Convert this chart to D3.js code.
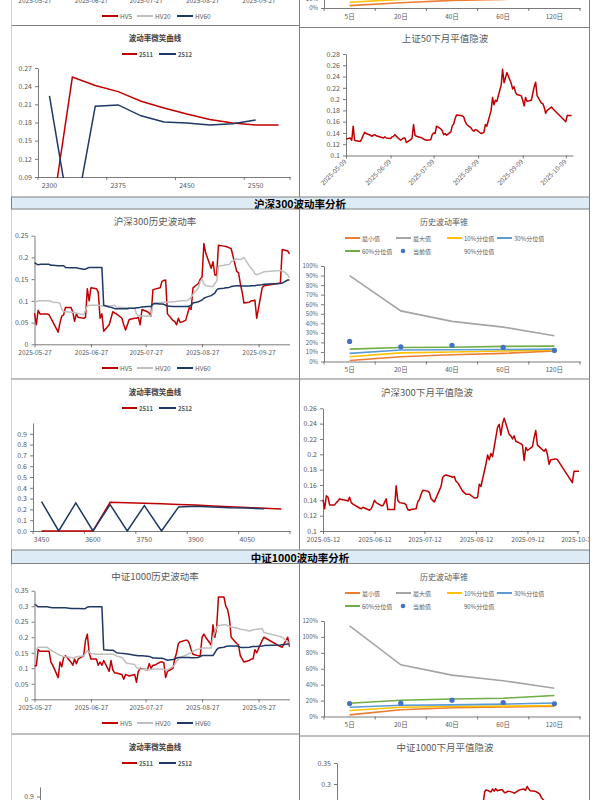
<!DOCTYPE html>
<html>
<head>
<meta charset="utf-8">
<script src="https://cdn.jsdelivr.net/npm/d3@7"></script>
<style>
  body { margin: 0; background: #fff; }
  text { font-family: "Noto Sans CJK SC", "Noto Sans", sans-serif; }
</style>
</head>
<body>
<svg id="chart" width="600" height="800"></svg>
<script>
// ---------------- data ----------------
// exchange holidays skipped when laying values on trading days
const holidays = ["2025-06-02", "2025-10-01", "2025-10-02", "2025-10-03", "2025-10-06", "2025-10-07", "2025-10-08"];

// 上证50下月平值隐波, trading days from 2025-05-09
const sz50IV = [
  0.129, 0.131, 0.127, 0.152, 0.127, 0.126, 0.125, 0.130, 0.136, 0.141, 0.139, 0.136, 0.134, 0.136, 0.137, 0.135,
  0.132, 0.131, 0.133, 0.131, 0.130, 0.133, 0.134, 0.137, 0.134, 0.127, 0.129, 0.131, 0.131, 0.123, 0.128, 0.131, 0.155, 0.136, 0.134, 0.132,
  0.131, 0.129, 0.128, 0.127, 0.128, 0.137, 0.140, 0.139, 0.152, 0.147, 0.144, 0.137, 0.139, 0.136, 0.142, 0.153, 0.156, 0.166, 0.172, 0.171, 0.170, 0.168, 0.160,
  0.155, 0.149, 0.145, 0.143, 0.146, 0.145, 0.139, 0.140, 0.141, 0.155, 0.152, 0.180, 0.203, 0.190, 0.198, 0.196, 0.225, 0.253, 0.229, 0.238, 0.247,
  0.228, 0.218, 0.222, 0.212, 0.208, 0.206, 0.198, 0.188, 0.203, 0.196, 0.198, 0.210, 0.222, 0.230, 0.206, 0.193, 0.192, 0.185, 0.175, 0.180, 0.186, 0.183,
  0.160, 0.171, 0.171
];

// 沪深300 historical volatility, trading days from 2025-05-27
const hsHV5 = [
  0.072, 0.045, 0.078, 0.070,
  0.070, 0.068, 0.060, 0.052, 0.028, 0.050, 0.065, 0.068, 0.085, 0.085, 0.075, 0.053, 0.070, 0.062, 0.060, 0.062, 0.128, 0.100, 0.130, 0.128,
  0.120, 0.060, 0.070, 0.030, 0.045, 0.060, 0.075, 0.072, 0.070, 0.060, 0.045, 0.033, 0.045, 0.057, 0.060, 0.060, 0.062, 0.045, 0.080, 0.075, 0.072, 0.065, 0.125,
  0.127, 0.130, 0.145, 0.147, 0.148, 0.070, 0.055, 0.052, 0.045, 0.060, 0.050, 0.055, 0.070, 0.085, 0.080, 0.130, 0.140, 0.150, 0.155, 0.232, 0.210,
  0.175, 0.190, 0.160, 0.158, 0.228, 0.226, 0.225, 0.224, 0.222, 0.220, 0.168, 0.165, 0.140, 0.120, 0.095, 0.097, 0.100, 0.100, 0.102, 0.060, 0.130, 0.135,
  0.141, 0.218, 0.215, 0.208
];
const hsHV20 = [
  0.097, 0.098, 0.100, 0.100,
  0.100, 0.100, 0.099, 0.097, 0.096, 0.094, 0.080, 0.075, 0.075, 0.074, 0.074, 0.073, 0.072, 0.071, 0.068, 0.078, 0.088, 0.090, 0.090, 0.090,
  0.090, 0.089, 0.088, 0.088, 0.088, 0.088, 0.089, 0.090, 0.086, 0.085, 0.085, 0.085, 0.084, 0.083, 0.083, 0.070, 0.065, 0.065, 0.065, 0.065, 0.065, 0.066, 0.092,
  0.095, 0.096, 0.096, 0.097, 0.097, 0.097, 0.098, 0.098, 0.099, 0.099, 0.100, 0.100, 0.101, 0.104, 0.108, 0.115, 0.130, 0.145, 0.150, 0.140, 0.135,
  0.133, 0.133, 0.140, 0.145, 0.180, 0.182, 0.183, 0.183, 0.184, 0.190, 0.197, 0.196, 0.195, 0.197, 0.200, 0.180, 0.175, 0.170, 0.162, 0.160, 0.165, 0.167,
  0.170, 0.170, 0.160, 0.153
];
const hsHV60 = [
  0.188, 0.185, 0.183, 0.184,
  0.184, 0.184, 0.182, 0.182, 0.181, 0.181, 0.181, 0.181, 0.177, 0.176, 0.176, 0.176, 0.176, 0.175, 0.173, 0.173, 0.175, 0.177, 0.177, 0.177,
  0.177, 0.177, 0.177, 0.090, 0.086, 0.085, 0.084, 0.082, 0.082, 0.082, 0.082, 0.082, 0.082, 0.083, 0.083, 0.084, 0.084, 0.085, 0.086, 0.087, 0.087, 0.087, 0.093,
  0.094, 0.093, 0.093, 0.092, 0.090, 0.088, 0.087, 0.087, 0.087, 0.087, 0.087, 0.087, 0.087, 0.088, 0.090, 0.095, 0.098, 0.100, 0.102, 0.106, 0.108,
  0.112, 0.115, 0.118, 0.125, 0.128, 0.129, 0.130, 0.130, 0.131, 0.133, 0.135, 0.135, 0.134, 0.134, 0.134, 0.134, 0.135, 0.135, 0.135, 0.136, 0.137, 0.138,
  0.140, 0.141, 0.148, 0.148
];

// 中证1000 historical volatility, trading days from 2025-05-27
const zzHV5 = [
  0.108, 0.108, 0.160, 0.155,
  0.155, 0.155, 0.120, 0.110, 0.070, 0.120, 0.105, 0.135, 0.140, 0.120, 0.110, 0.130, 0.115, 0.130, 0.140, 0.190, 0.210, 0.150, 0.130, 0.130,
  0.110, 0.120, 0.110, 0.125, 0.090, 0.125, 0.095, 0.085, 0.085, 0.080, 0.065, 0.080, 0.078, 0.075, 0.080, 0.055, 0.090, 0.100, 0.098, 0.095, 0.115, 0.100, 0.110,
  0.110, 0.120, 0.120, 0.118, 0.070, 0.090, 0.100, 0.130, 0.150, 0.180, 0.185, 0.190, 0.190, 0.180, 0.160, 0.145, 0.140, 0.140, 0.200, 0.210, 0.200,
  0.175, 0.240, 0.200, 0.230, 0.330, 0.330, 0.300, 0.290, 0.260, 0.200, 0.180, 0.175, 0.140, 0.130, 0.120, 0.125, 0.130, 0.130, 0.160, 0.150, 0.190, 0.200,
  0.170, 0.168, 0.200, 0.170
];
const zzHV20 = [
  0.155, 0.160, 0.168, 0.168,
  0.168, 0.162, 0.158, 0.155, 0.145, 0.142, 0.140, 0.138, 0.137, 0.135, 0.133, 0.135, 0.137, 0.138, 0.140, 0.148, 0.157, 0.152, 0.148, 0.145,
  0.145, 0.145, 0.146, 0.145, 0.145, 0.146, 0.145, 0.143, 0.140, 0.135, 0.128, 0.120, 0.115, 0.115, 0.112, 0.103, 0.100, 0.098, 0.097, 0.096, 0.095, 0.096, 0.097,
  0.098, 0.098, 0.097, 0.096, 0.095, 0.095, 0.105, 0.112, 0.122, 0.130, 0.135, 0.142, 0.145, 0.148, 0.150, 0.155, 0.162, 0.163, 0.165, 0.165, 0.165,
  0.165, 0.200, 0.215, 0.232, 0.238, 0.240, 0.240, 0.238, 0.236, 0.233, 0.230, 0.228, 0.226, 0.225, 0.224, 0.220, 0.222, 0.224, 0.225, 0.226, 0.228, 0.215,
  0.202, 0.200, 0.185, 0.175
];
const zzHV60 = [
  0.305, 0.303, 0.298, 0.298,
  0.298, 0.297, 0.296, 0.295, 0.295, 0.295, 0.295, 0.295, 0.295, 0.293, 0.293, 0.293, 0.293, 0.293, 0.292, 0.293, 0.297, 0.298, 0.298, 0.298,
  0.298, 0.298, 0.298, 0.160, 0.158, 0.158, 0.158, 0.155, 0.150, 0.148, 0.148, 0.147, 0.146, 0.145, 0.142, 0.141, 0.140, 0.140, 0.140, 0.139, 0.138, 0.136, 0.133,
  0.133, 0.132, 0.132, 0.131, 0.128, 0.126, 0.128, 0.130, 0.133, 0.135, 0.135, 0.135, 0.135, 0.135, 0.134, 0.134, 0.135, 0.138, 0.141, 0.141, 0.141,
  0.141, 0.141, 0.150, 0.160, 0.165, 0.168, 0.170, 0.171, 0.172, 0.172, 0.172, 0.170, 0.168, 0.167, 0.167, 0.168, 0.169, 0.170, 0.170, 0.170, 0.172, 0.173,
  0.175, 0.176, 0.178, 0.178
];

// 沪深300下月平值隐波, trading days from 2025-05-12
const hsIV = [
  0.141, 0.129, 0.146, 0.144, 0.134, 0.134, 0.137, 0.139, 0.142, 0.141, 0.140, 0.139, 0.144, 0.137, 0.135,
  0.130, 0.129, 0.131, 0.130, 0.127, 0.129, 0.134, 0.140, 0.137, 0.133, 0.133, 0.137, 0.142, 0.128, 0.128, 0.128, 0.159, 0.140, 0.137, 0.136,
  0.134, 0.128, 0.127, 0.128, 0.129, 0.138, 0.141, 0.148, 0.153, 0.152, 0.150, 0.142, 0.140, 0.138, 0.153, 0.158, 0.170, 0.172, 0.173, 0.171, 0.170, 0.171, 0.165,
  0.163, 0.152, 0.150, 0.148, 0.148, 0.148, 0.143, 0.143, 0.144, 0.161, 0.158, 0.187, 0.199, 0.193, 0.201, 0.197, 0.235, 0.239, 0.225, 0.240, 0.247,
  0.226, 0.224, 0.220, 0.224, 0.217, 0.214, 0.212, 0.192, 0.209, 0.205, 0.210, 0.222, 0.231, 0.212, 0.210, 0.204, 0.207, 0.200, 0.187, 0.193, 0.194, 0.193,
  0.163, 0.178, 0.178
];

// 中证1000下月平值隐波, visible part only, trading days from 2025-08-13
const zzIV = [
  0.255, 0.282, 0.286, 0.281, 0.288, 0.283, 0.289, 0.284, 0.287, 0.282, 0.279, 0.281, 0.283,
  0.280, 0.278, 0.281, 0.283, 0.286, 0.288, 0.285, 0.294, 0.288, 0.284, 0.283, 0.281, 0.279, 0.276, 0.268, 0.255
];

// volatility cones (%)
const coneCats = ["5日", "20日", "40日", "60日", "120日"];
const sz50ConeMin = [2.5, 5.5, 8, 9, 11];
const sz50ConeP10 = [6, 9, 10.5, 11.5, 12.5];
const hsConeMin = [1, 5, 7, 8.5, 11];
const hsConeMax = [90, 53, 42, 36, 27];
const hsConeP10 = [5, 9, 10, 11, 12];
const hsConeP30 = [8.5, 12, 12.3, 12.6, 13];
const hsConeP60 = [13, 14.7, 15, 15.8, 16.1];
const hsConeCur = [21, 15.4, 17, 14.7, 11.6];
const zzConeMin = [2, 8.4, 11, 12, 13];
const zzConeMax = [114, 65, 52, 45, 35.5];
const zzConeP10 = [7.5, 11.7, 12.5, 13, 13.8];
const zzConeP30 = [11.7, 14.2, 14.6, 15.5, 17];
const zzConeP60 = [16.7, 20.5, 22, 23, 26.3];
const zzConeCur = [16.3, 16.7, 20.5, 17.6, 16];

// volatility smiles
const sz50Strikes = [2300, 2325, 2350, 2375, 2400, 2425, 2450, 2475, 2500, 2550, 2600];
const sz50Smile2511 = [0, 0.255, 0.241, 0.231, 0.215, 0.204, 0.194, 0.185, 0.179, 0.176, 0.176];
const sz50Smile2512 = [0.224, 0, 0.207, 0.209, 0.191, 0.181, 0.179, 0.176, 0.178, 0.184, null];
const hsStrikes = [3450, 3500, 3550, 3600, 3650, 3700, 3750, 3800, 3850, 3900, 3950, 4000, 4050, 4100, 4150];
const hsSmile2511 = [0, 0, 0, 0, 0.266, 0.262, 0.257, 0.252, 0.246, 0.240, 0.232, 0.225, 0.218, 0.210, 0.203];
const hsSmile2512 = [0.272, 0, 0.260, 0, 0.245, 0, 0.235, 0, 0.223, 0.229, 0.222, 0.215, 0.212, 0.205, null];

const hvTicks = ["2025-05-27", "2025-06-27", "2025-07-27", "2025-08-27", "2025-09-27"];
const sz50Ticks = ["2025-05-09", "2025-06-09", "2025-07-09", "2025-08-09", "2025-09-09", "2025-10-09"];
const hsIVTicks = ["2025-05-12", "2025-06-12", "2025-07-12", "2025-08-12", "2025-09-12", "2025-10-12"];

// ---------------- helpers ----------------
const svg = d3.select("#chart");
const parse = d3.timeParse("%Y-%m-%d");
const fmtDate = d3.timeFormat("%Y-%m-%d");
const TEXT = "#595959", AXIS = "#595959", FRAME = "#808080";
const RED = "#c00000", GRAY = "#bfbfbf", NAVY = "#203864";
const fmtNum = d => d === 0 ? "0" : String(+d.toFixed(2));

function tradingDays(start, n) {
  const out = [];
  let d = parse(start);
  while (out.length < n) {
    const wd = d.getDay();
    if (wd !== 0 && wd !== 6 && !holidays.includes(fmtDate(d))) out.push(d);
    d = d3.timeDay.offset(d, 1);
  }
  return out;
}
function toSeries(start, values) {
  const days = tradingDays(start, values.length);
  return values.map((v, i) => ({ date: days[i], value: v }));
}
function styleAxis(g, size) {
  g.selectAll(".domain").attr("stroke", AXIS).attr("stroke-width", 0.8);
  g.selectAll(".tick line").attr("stroke", AXIS).attr("stroke-width", 0.8);
  g.selectAll(".tick text").attr("fill", TEXT).attr("font-size", size || 7)
    .attr("font-family", '"Noto Sans CJK SC", sans-serif');
}
function label(g, x, y, txt, size, opts) {
  opts = opts || {};
  return g.append("text").attr("x", x).attr("y", y)
    .attr("text-anchor", opts.anchor || "middle").attr("dominant-baseline", "central")
    .attr("font-size", size).attr("font-weight", opts.weight || 400)
    .attr("fill", opts.color || TEXT).text(txt);
}
function legendLine(g, x1, x2, y, color, txt, size, weight) {
  g.append("line").attr("x1", x1).attr("x2", x2).attr("y1", y).attr("y2", y)
    .attr("stroke", color).attr("stroke-width", 2);
  label(g, x2 + 2, y, txt, size, { anchor: "start", weight: weight });
}

// clip for right-hand column
svg.append("defs").append("clipPath").attr("id", "rightCol")
  .append("rect").attr("x", 300).attr("y", 0).attr("width", 289).attr("height", 800);

// ---------------- historical volatility chart ----------------
function hvChart(top, title, yMax, series, full) {
  const g = svg.append("g");
  const x = d3.scaleTime().domain([parse("2025-05-27"), parse("2025-10-14")]).range([34.5, 289.5]);
  const y = d3.scaleLinear().domain([0, yMax]).range([top + 135.3, top + 26.7]);
  if (full) {
    label(g, 155, top + 12, title, 9.5);
    g.append("g").attr("transform", "translate(34.5,0)")
      .call(d3.axisLeft(y).tickValues(d3.range(0, yMax + 1e-9, 0.05)).tickSize(3).tickSizeOuter(0).tickFormat(fmtNum))
      .call(styleAxis);
    series.forEach(s => {
      g.append("path").datum(s.data)
        .attr("d", d3.line().x(d => x(d.date)).y(d => y(d.value)))
        .attr("fill", "none").attr("stroke", s.color).attr("stroke-width", 1.5)
        .attr("stroke-linejoin", "round");
    });
  }
  g.append("g").attr("transform", `translate(0,${top + 135.3})`)
    .call(d3.axisBottom(x).tickValues(hvTicks.map(parse)).tickSize(3).tickSizeOuter(0).tickFormat(fmtDate))
    .call(styleAxis, 6.5);
  const ly = top + 159;
  legendLine(g, 102, 118, ly, RED, "HV5", 6.5);
  legendLine(g, 137, 153, ly, GRAY, "HV20", 6.5);
  legendLine(g, 177, 193, ly, NAVY, "HV60", 6.5);
}

// ---------------- volatility cone ----------------
function coneChart(top, yMax, yStep, series, dots) {
  const g = svg.append("g");
  const x = d3.scaleBand().domain(coneCats).range([324, 580]);
  const y = d3.scaleLinear().domain([0, yMax]).range([top + 152.5, top + 57]);
  label(g, 444, top + 12, "历史波动率锥", 8);
  const r1 = top + 29, r2 = top + 42;
  legendLine(g, 345, 360, r1, "#ed7d31", "最小值", 6);
  legendLine(g, 396, 411, r1, "#a5a5a5", "最大值", 6);
  legendLine(g, 447, 462, r1, "#ffc000", "10%分位值", 6);
  legendLine(g, 497, 512, r1, "#5b9bd5", "30%分位值", 6);
  legendLine(g, 345, 360, r2, "#70ad47", "60%分位值", 6);
  g.append("circle").attr("cx", 403).attr("cy", r2).attr("r", 2.3).attr("fill", "#4472c4");
  label(g, 413, r2, "当前值", 6, { anchor: "start" });
  label(g, 464, r2, "90%分位值", 6, { anchor: "start" });

  g.append("g").attr("transform", "translate(324,0)")
    .call(d3.axisLeft(y).tickValues(d3.range(0, yMax + 1e-9, yStep)).tickSize(3).tickSizeOuter(0).tickFormat(d => d + "%"))
    .call(styleAxis, 6);
  const gx = g.append("g").attr("transform", `translate(0,${y(0)})`)
    .call(d3.axisBottom(x).tickSize(0).tickSizeOuter(0).tickPadding(6))
    .call(styleAxis, 6.5);
  d3.range(coneCats.length + 1).forEach(i => {
    const tx = x.range()[0] + i * x.bandwidth();
    gx.append("line").attr("x1", tx).attr("x2", tx).attr("y1", 0).attr("y2", 3)
      .attr("stroke", AXIS).attr("stroke-width", 0.8);
  });
  const line = d3.line().x((d, i) => x(coneCats[i]) + x.bandwidth() / 2).y(d => y(d));
  series.forEach(s => {
    g.append("path").datum(s.values).attr("d", line)
      .attr("fill", "none").attr("stroke", s.color).attr("stroke-width", 1.6);
  });
  if (dots) {
    g.selectAll(null).data(dots).enter().append("circle")
      .attr("cx", (d, i) => x(coneCats[i]) + x.bandwidth() / 2).attr("cy", d => y(d))
      .attr("r", 2.6).attr("fill", "#4472c4");
  }
}

// ---------------- volatility smile ----------------
function smileChart(o) {
  const g = svg.append("g");
  label(g, 155, o.top + 12, "波动率微笑曲线", 7.5, { weight: 700, color: "#404040" });
  legendLine(g, 122, 137, o.top + 29, RED, "2511", 6, 700);
  legendLine(g, 159, 176, o.top + 29, NAVY, "2512", 6, 700);
  const y = d3.scaleLinear().domain(o.yDomain).range([o.yBottom, o.yTop]);
  g.append("g").attr("transform", `translate(${o.x0},0)`)
    .call(d3.axisLeft(y).tickValues(o.yTicks).tickSize(3).tickSizeOuter(0).tickFormat(d3.format(o.fmt)))
    .call(styleAxis);
  if (!o.cats) return;
  const x = d3.scaleBand().domain(o.cats).range([o.x0, o.x1]);
  const gx = g.append("g").attr("transform", `translate(0,${o.yBottom})`)
    .call(d3.axisBottom(x).tickValues(o.cats.filter((c, i) => i % 3 === 0)).tickSize(0).tickSizeOuter(0).tickPadding(6))
    .call(styleAxis);
  o.cats.forEach((c, i) => {
    if (i % 3 === 0) {
      gx.append("line").attr("x1", x(c)).attr("x2", x(c)).attr("y1", 0).attr("y2", 3)
        .attr("stroke", AXIS).attr("stroke-width", 0.8);
    }
  });
  gx.append("line").attr("x1", o.x1).attr("x2", o.x1).attr("y1", 0).attr("y2", 3)
    .attr("stroke", AXIS).attr("stroke-width", 0.8);
  const clipId = "clip" + o.top;
  g.append("clipPath").attr("id", clipId).append("rect")
    .attr("x", o.x0).attr("y", o.yTop - 2).attr("width", o.x1 - o.x0).attr("height", o.yBottom - o.yTop + 3);
  const line = d3.line().defined(d => d != null)
    .x((d, i) => x(o.cats[i]) + x.bandwidth() / 2).y(d => y(d));
  [[o.s2511, RED], [o.s2512, NAVY]].forEach(([vals, col]) => {
    g.append("path").datum(vals).attr("d", line).attr("clip-path", `url(#${clipId})`)
      .attr("fill", "none").attr("stroke", col).attr("stroke-width", 1.5);
  });
}

// ---------------- implied volatility ----------------
function ivChart(o) {
  const g = svg.append("g").attr("clip-path", "url(#rightCol)");
  label(g, o.titleX, o.titleY, o.title, 9.5);
  const x = d3.scaleTime().domain(o.domain.map(parse)).range([o.x0, o.x1]);
  const y = d3.scaleLinear().domain(o.yDomain).range([o.yBottom, o.yTop]);
  g.append("g").attr("transform", `translate(${o.x0},0)`)
    .call(d3.axisLeft(y).tickValues(d3.range(o.yDomain[0], o.yDomain[1] + 1e-9, o.yStep)).tickSize(3).tickSizeOuter(0).tickFormat(fmtNum))
    .call(styleAxis);
  const gx = g.append("g").attr("transform", `translate(0,${o.yBottom})`)
    .call(d3.axisBottom(x).tickValues(o.ticks.map(parse)).tickSize(3).tickSizeOuter(0).tickFormat(fmtDate))
    .call(styleAxis, 6.5);
  if (o.rotate) {
    gx.selectAll(".tick text").attr("y", 0).attr("dy", "0.35em")
      .attr("transform", "translate(-1,5) rotate(-45)").attr("text-anchor", "end");
  }
  g.append("path").datum(o.data)
    .attr("d", d3.line().x(d => x(d.date)).y(d => y(d.value)))
    .attr("fill", "none").attr("stroke", RED).attr("stroke-width", 1.5).attr("stroke-linejoin", "round");
}

// ---------------- frame ----------------
const fr = svg.append("g");
function frLine(x1, y1, x2, y2, c) {
  fr.append("line").attr("x1", x1).attr("y1", y1).attr("x2", x2).attr("y2", y2)
    .attr("stroke", c || FRAME).attr("stroke-width", 1);
}
[[0, 197], [209, 550], [564, 800]].forEach(([a, b]) => {
  frLine(11.5, a, 11.5, b, "#d0d0d0");
  frLine(299.5, a, 299.5, b);
  frLine(589.5, a, 589.5, b);
});
frLine(11.5, 25.5, 299.5, 25.5);
frLine(299.5, 27.5, 589.5, 27.5);
frLine(11.5, 379, 589.5, 379);
frLine(11.5, 734, 299.5, 734);
frLine(299.5, 736, 589.5, 736);
[[197, 12, "沪深300波动率分析"], [550, 13.5, "中证1000波动率分析"]].forEach(([yy, h, t]) => {
  fr.append("rect").attr("x", 11.5).attr("y", yy).attr("width", 578).attr("height", h)
    .attr("fill", "#ddebf7").attr("stroke", FRAME).attr("stroke-width", 1);
  label(fr, 300, yy + h / 2 + 0.5, t, 10.5, { weight: 700, color: "#000" });
});

// ---------------- draw ----------------
// top row (continued from previous page)
hvChart(-143, "", 0.25, [], false);
coneChart(-144.5, 100, 10, [
  { values: sz50ConeMin, color: "#ed7d31" },
  { values: sz50ConeP10, color: "#ffc000" }
], null);

// 上证50 row
smileChart({ top: 25, x0: 38, x1: 290, yTop: 68, yBottom: 177, yDomain: [0.09, 0.27],
  yTicks: [0.09, 0.12, 0.15, 0.18, 0.21, 0.24, 0.27], fmt: ".2f",
  cats: sz50Strikes, s2511: sz50Smile2511, s2512: sz50Smile2512 });
ivChart({ title: "上证50下月平值隐波", titleX: 445, titleY: 38, x0: 346, x1: 573,
  domain: ["2025-05-09", "2025-10-14"], ticks: sz50Ticks, rotate: true,
  yDomain: [0.1, 0.28], yStep: 0.02, yTop: 54, yBottom: 155.5, data: toSeries("2025-05-09", sz50IV) });

// 沪深300
hvChart(209, "沪深300历史波动率", 0.25, [
  { data: toSeries("2025-05-27", hsHV5), color: RED },
  { data: toSeries("2025-05-27", hsHV20), color: GRAY },
  { data: toSeries("2025-05-27", hsHV60), color: NAVY }
], true);
coneChart(209, 100, 10, [
  { values: hsConeMin, color: "#ed7d31" },
  { values: hsConeMax, color: "#a5a5a5" },
  { values: hsConeP10, color: "#ffc000" },
  { values: hsConeP30, color: "#5b9bd5" },
  { values: hsConeP60, color: "#70ad47" }
], hsConeCur);
smileChart({ top: 379, x0: 33, x1: 290, yTop: 423, yBottom: 531, yDomain: [0, 1],
  yTicks: [0, 0.1, 0.2, 0.3, 0.4, 0.5, 0.6, 0.7, 0.8, 0.9], fmt: ".1f",
  cats: hsStrikes, s2511: hsSmile2511, s2512: hsSmile2512 });
ivChart({ title: "沪深300下月平值隐波", titleX: 427, titleY: 392, x0: 323, x1: 579,
  domain: ["2025-05-12", "2025-10-13"], ticks: hsIVTicks, rotate: false,
  yDomain: [0.1, 0.26], yStep: 0.02, yTop: 408.3, yBottom: 531, data: toSeries("2025-05-12", hsIV) });

// 中证1000
hvChart(564, "中证1000历史波动率", 0.35, [
  { data: toSeries("2025-05-27", zzHV5), color: RED },
  { data: toSeries("2025-05-27", zzHV20), color: GRAY },
  { data: toSeries("2025-05-27", zzHV60), color: NAVY }
], true);
coneChart(564, 120, 20, [
  { values: zzConeMin, color: "#ed7d31" },
  { values: zzConeMax, color: "#a5a5a5" },
  { values: zzConeP10, color: "#ffc000" },
  { values: zzConeP30, color: "#5b9bd5" },
  { values: zzConeP60, color: "#70ad47" }
], zzConeCur);
smileChart({ top: 734, x0: 40, x1: 290, yTop: 787, yBottom: 882, yDomain: [0, 1],
  yTicks: [0, 0.1, 0.2, 0.3, 0.4, 0.5, 0.6, 0.7, 0.8, 0.9], fmt: ".1f", cats: null });
ivChart({ title: "中证1000下月平值隐波", titleX: 445, titleY: 747, x0: 337, x1: 579,
  domain: ["2025-05-12", "2025-10-13"], ticks: hsIVTicks, rotate: false,
  yDomain: [0.1, 0.35], yStep: 0.05, yTop: 763, yBottom: 868, data: toSeries("2025-08-13", zzIV) });
</script>
</body>
</html>
